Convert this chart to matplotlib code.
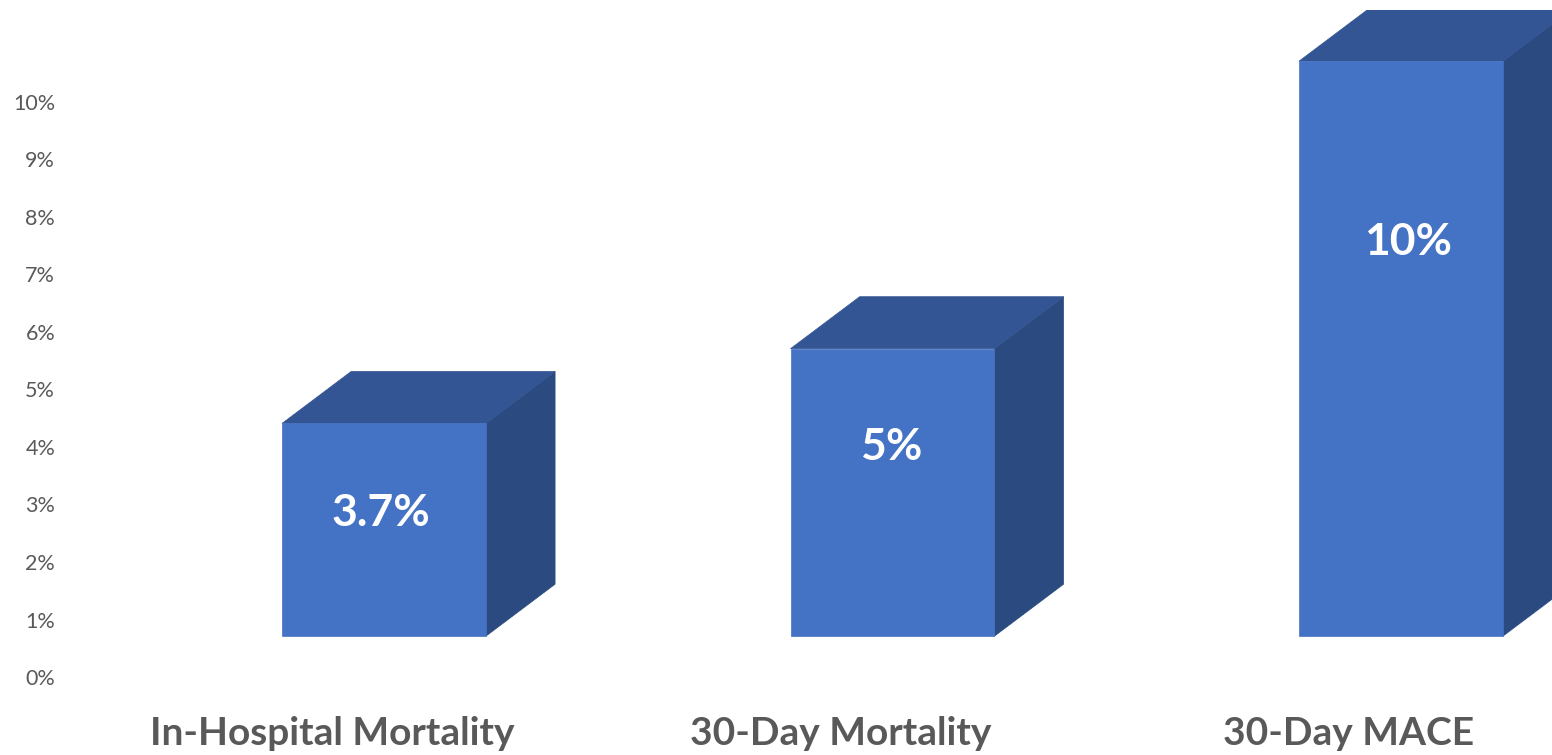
import matplotlib
matplotlib.use("Agg")
import matplotlib.pyplot as plt
from matplotlib.patches import Polygon
from matplotlib.ticker import FuncFormatter

categories = ["In-Hospital Mortality", "30-Day Mortality", "30-Day MACE"]
values = [3.7, 5, 10]
value_labels = ["3.7%", "5%", "10%"]
yticks = list(range(0, 11))

FRONT = "#4472c4"
TOP = "#335593"
SIDE = "#2a4a80"
GREY = "#595959"

# box geometry, in axis units
left_off = -0.0983
width = 0.401
depth_x = 0.136
depth_y = 0.904
base = 0.71

plt.rcParams["font.family"] = ["Lato", "DejaVu Sans"]

W, H = 1552, 755
STEP = 508.5
fig = plt.figure(figsize=(W / 100, H / 100), dpi=100)
# 0% sits at pixel row 677, 57.5 px per percent
ax = fig.add_axes([60 / W, (H - 677) / H, (W - 60) / W, (677 - 10) / H])
ax.set_ylim(0, 667 / 57.5)
ax.set_xlim((60 - 332) / STEP, (W - 332) / STEP)

for i, v in enumerate(values):
    x0 = i + left_off
    x1 = x0 + width
    y0 = base
    y1 = base + v
    # thin edges in the face colour close the seams between faces
    ax.add_patch(Polygon([(x1, y0), (x1 + depth_x, y0 + depth_y), (x1 + depth_x, y1 + depth_y), (x1, y1)],
                         facecolor=SIDE, edgecolor=SIDE, linewidth=0.5))
    ax.add_patch(Polygon([(x0, y1), (x1, y1), (x1 + depth_x, y1 + depth_y), (x0 + depth_x, y1 + depth_y)],
                         facecolor=TOP, edgecolor=TOP, linewidth=0.5))
    ax.add_patch(Polygon([(x0, y0), (x1, y0), (x1, y1), (x0, y1)],
                         facecolor=FRONT, edgecolor=FRONT, linewidth=0.5))

label_x = [0.096, 1.1, 2.116]
label_y = [2.86, 4.0, 7.56]
for x, y, s in zip(label_x, label_y, value_labels):
    ax.text(x, y, s, color="white", fontsize=32, fontweight="bold", ha="center", va="center")

for side in ax.spines.values():
    side.set_visible(False)
ax.set_yticks(yticks)
ax.yaxis.set_major_formatter(FuncFormatter(lambda v, p: "%d%%" % v))
ax.tick_params(axis="y", length=0, pad=3.5, labelsize=15.5, labelcolor=GREY)
ax.set_xticks(range(len(categories)))
ax.set_xticklabels(categories, fontsize=28, fontweight="bold", color=GREY)
ax.tick_params(axis="x", length=0, pad=28)

fig.savefig("out.png", dpi=100)
